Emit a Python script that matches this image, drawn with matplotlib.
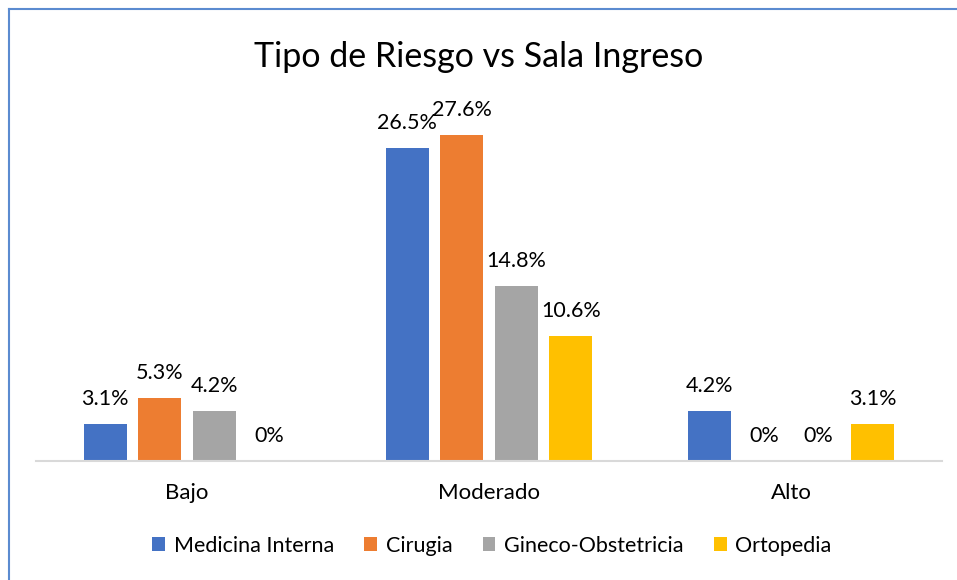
import numpy as np
import matplotlib.pyplot as plt
from matplotlib.lines import Line2D

categories = ["Bajo", "Moderado", "Alto"]
series = ["Medicina Interna", "Cirugia", "Gineco-Obstetricia", "Ortopedia"]
medicina = [3.1, 26.5, 4.2]
cirugia = [5.3, 27.6, 0]
gineco = [4.2, 14.8, 0]
ortopedia = [0, 10.6, 3.1]
colors = ["#4472C4", "#ED7D31", "#A5A5A5", "#FFC000"]

plt.rcParams['font.family'] = ['Lato', 'DejaVu Sans']

fig = plt.figure(figsize=(9.57, 5.80), dpi=100)
ax = fig.add_axes([0.0377, 0.2052, 0.9467, 0.6103])

x = np.arange(len(categories))
step = 0.1805
width = 0.142
data = [medicina, cirugia, gineco, ortopedia]
for i, (name, vals) in enumerate(zip(series, data)):
    pos = x + (i - 1.5) * step
    ax.bar(pos, vals, width, color=colors[i], label=name)
    for p, v in zip(pos, vals):
        lab = "0%" if v == 0 else f"{v:.1f}%"
        ax.annotate(lab, (p, v), xytext=(0, 11), textcoords="offset points",
                    ha="center", va="bottom", fontsize=15.5, color="black")

ax.set_xlim(-0.5, 2.5)
ax.set_ylim(0, 30)
ax.set_yticks([])
ax.set_xticks(x)
ax.set_xticklabels(categories, fontsize=16, color="black")
ax.tick_params(axis="x", length=0, pad=16)
for s in ["top", "right", "left"]:
    ax.spines[s].set_visible(False)
ax.spines["bottom"].set_color("#d9d9d9")
ax.spines["bottom"].set_linewidth(1.5)

fig.suptitle("Tipo de Riesgo vs Sala Ingreso", fontsize=24.5, y=0.93, color="black")

leg = fig.legend(loc="center", bbox_to_anchor=(0.514, 0.059), ncol=4, frameon=False,
                 fontsize=15.5, handlelength=0.6, handleheight=0.6, handletextpad=0.4,
                 columnspacing=1.4)

# blue frame edge
fig.add_artist(Line2D([9 / 957, 9 / 957], [0, 1 - 9 / 580], transform=fig.transFigure,
                      color="#5B8BD0", lw=1.5))
fig.add_artist(Line2D([9 / 957, 1], [1 - 9 / 580, 1 - 9 / 580], transform=fig.transFigure,
                      color="#5B8BD0", lw=1.5))

fig.savefig("out.png", dpi=100)
